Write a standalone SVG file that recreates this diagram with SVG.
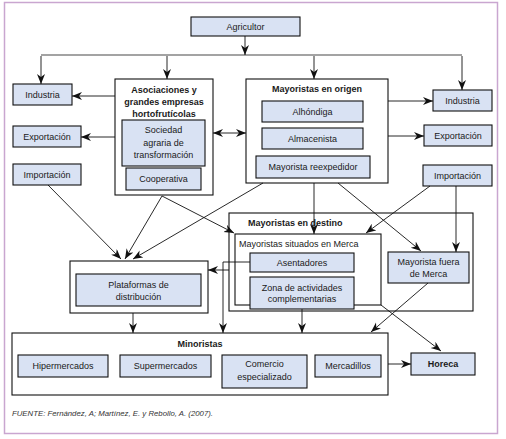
<svg xmlns="http://www.w3.org/2000/svg" width="506" height="439" viewBox="0 0 506 439">
<defs>
<marker id="ah" markerUnits="userSpaceOnUse" markerWidth="11" markerHeight="9" refX="10" refY="4" orient="auto-start-reverse">
<path d="M0,0 L10,4 L0,8 L3,4 z" fill="#111"/>
</marker>
</defs>
<style>
.b{fill:#d9e2f3;stroke:#111;stroke-width:1.1}
.c{fill:#fff;stroke:#111;stroke-width:1.1}
.t{font-family:"Liberation Sans",Arial,sans-serif;font-size:9px;fill:#1a1a1a;text-anchor:middle}
.h{font-weight:bold}
.l{text-anchor:start}
.k{fill:none;stroke:#111;stroke-width:0.9;marker-end:url(#ah)}
</style>
<rect x="0" y="0" width="506" height="439" fill="#fff"/>
<rect x="4.5" y="2.5" width="493" height="431" fill="#fff" stroke="#c9a6d0" stroke-width="1.5"/>

<g id="agricultor"><rect class="b" x="191" y="17" width="109" height="19"/><text class="t" x="245.5" y="30">Agricultor</text></g>
<g id="industria-l"><rect class="b" x="13" y="84" width="59" height="21"/><text class="t" x="42.5" y="98">Industria</text></g>
<g id="exportacion-l"><rect class="b" x="13" y="126" width="68" height="21"/><text class="t" x="47" y="140">Exportación</text></g>
<g id="importacion-l"><rect class="b" x="13" y="164" width="68" height="21"/><text class="t" x="47" y="178">Importación</text></g>

<g id="asociaciones">
<rect class="c" x="115" y="79" width="98" height="116"/>
<text class="t h" x="164" y="93">Asociaciones y</text>
<text class="t h" x="164" y="105">grandes empresas</text>
<text class="t h" x="164" y="117">hortofrutícolas</text>
</g>
<g id="sociedad"><rect class="b" x="122" y="120" width="83" height="46"/>
<text class="t" x="163.5" y="133">Sociedad</text><text class="t" x="163.5" y="146">agraria de</text><text class="t" x="163.5" y="158">transformación</text></g>
<g id="cooperativa"><rect class="b" x="126" y="168" width="75" height="22"/><text class="t" x="163.5" y="182">Cooperativa</text></g>

<g id="mayoristas-origen"><rect class="c" x="246" y="79" width="142" height="104"/><text class="t h" x="317" y="92">Mayoristas en origen</text></g>
<g id="alhondiga"><rect class="b" x="262" y="101" width="101" height="21"/><text class="t" x="312.5" y="115">Alhóndiga</text></g>
<g id="almacenista"><rect class="b" x="262" y="128" width="101" height="21"/><text class="t" x="312.5" y="142">Almacenista</text></g>
<g id="reexpedidor"><rect class="b" x="256" y="156" width="114" height="22"/><text class="t" x="313" y="170">Mayorista reexpedidor</text></g>

<g id="industria-r"><rect class="b" x="433" y="90" width="59" height="21"/><text class="t" x="462.5" y="104">Industria</text></g>
<g id="exportacion-r"><rect class="b" x="424" y="125" width="68" height="21"/><text class="t" x="458" y="139">Exportación</text></g>
<g id="importacion-r"><rect class="b" x="423" y="165" width="69" height="21"/><text class="t" x="457.5" y="179">Importación</text></g>

<g id="mayoristas-destino"><rect class="c" x="229" y="213" width="244" height="98"/><text class="t h l" x="248" y="226">Mayoristas en destino</text></g>
<g id="situados-merca"><rect class="c" x="235" y="234" width="146" height="71"/><text class="t l" x="239" y="247">Mayoristas situados en Merca</text></g>
<g id="asentadores"><rect class="b" x="250" y="253" width="104" height="19"/><text class="t" x="302" y="266">Asentadores</text></g>
<g id="zona"><rect class="b" x="250" y="277" width="104" height="32"/><text class="t" x="302" y="291">Zona de actividades</text><text class="t" x="302" y="302">complementarias</text></g>
<g id="fuera-merca"><rect class="b" x="388" y="252" width="81" height="31"/><text class="t" x="428.5" y="265">Mayorista fuera</text><text class="t" x="428.5" y="277">de Merca</text></g>

<g id="plataformas"><rect class="c" x="70" y="261" width="138" height="52"/><rect class="b" x="76" y="274" width="125" height="32"/>
<text class="t" x="138.5" y="288">Plataformas de</text><text class="t" x="138.5" y="300">distribución</text></g>

<g id="minoristas"><rect class="c" x="12" y="333" width="376" height="62"/><text class="t h" x="200" y="347">Minoristas</text></g>
<g id="hipermercados"><rect class="b" x="18" y="355" width="90" height="22"/><text class="t" x="63" y="369">Hipermercados</text></g>
<g id="supermercados"><rect class="b" x="120" y="355" width="91" height="22"/><text class="t" x="165.5" y="369">Supermercados</text></g>
<g id="comercio"><rect class="b" x="222" y="355" width="85" height="33"/><text class="t" x="264.5" y="367">Comercio</text><text class="t" x="264.5" y="380">especializado</text></g>
<g id="mercadillos"><rect class="b" x="315" y="355" width="66" height="22"/><text class="t" x="348" y="369">Mercadillos</text></g>
<g id="horeca"><rect class="b" x="411" y="353" width="64" height="22"/><text class="t h" x="443" y="367">Horeca</text></g>

<g id="connectors">
<path d="M41,55 H462" stroke="#a3a3a3" stroke-width="2" fill="none"/>
<path class="k" d="M245,36 V55"/>
<path class="k" d="M41,56 V84"/>
<path class="k" d="M167,56 V79"/>
<path class="k" d="M314,56 V79"/>
<path class="k" d="M462,56 V90"/>
<path class="k" d="M115,96 H72"/>
<path class="k" d="M115,137 H81"/>
<path class="k" d="M213,133 H246" style="marker-start:url(#ah)"/>
<path class="k" d="M388,101 H433"/>
<path class="k" d="M388,136 H424"/>
<path class="k" d="M48,185 L121,259"/>
<path class="k" d="M162,196 L125,259"/>
<path class="k" d="M162,196 L234,233"/>
<path class="k" d="M263,183 L133,259"/>
<path class="k" d="M314,183 V234"/>
<path class="k" d="M338,183 L421,251"/>
<path class="k" d="M430,186 L366,233"/>
<path class="k" d="M456,186 V252"/>
<path class="k" d="M428,283 L371,332"/>
<path class="k" d="M381,305 L441,351"/>
<path class="k" d="M302,309 V333"/>
<path class="k" d="M250,262 H223 V333"/>
<path class="k" d="M229,270 H208"/>
<path class="k" d="M133,313 V333"/>
<path class="k" d="M388,364 H411"/>
</g>

<text x="12" y="416" font-family="'Liberation Sans',Arial,sans-serif" font-size="8" font-style="italic" fill="#333" textLength="201" lengthAdjust="spacingAndGlyphs">FUENTE: Fernández, A; Martínez, E. y Rebollo, A. (2007).</text>
</svg>
